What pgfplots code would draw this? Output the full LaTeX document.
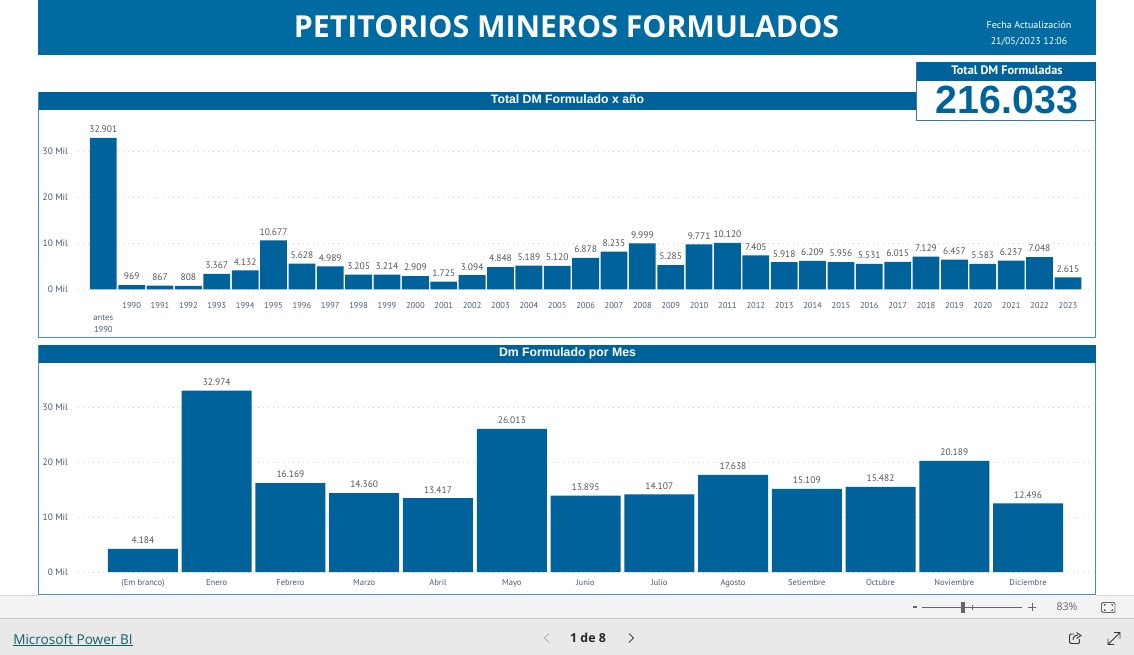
\documentclass[border=0pt]{standalone}
\usepackage{pgfplots}
\pgfplotsset{compat=1.18}
\usepackage{fontspec}
\setmainfont{PT Sans}
\newfontfamily\titlefont{Open Sans}
\newfontfamily\arialfont{Liberation Sans}
\definecolor{band}{HTML}{006BA0}
\definecolor{bar}{HTML}{00629A}
\definecolor{frame}{HTML}{3F8FC0}
\definecolor{ticktxt}{HTML}{4A5A78}
\definecolor{valtxt}{HTML}{555555}
\definecolor{gridc}{HTML}{D4D4D4}
\definecolor{statusbg}{HTML}{F3F3F3}
\definecolor{footbg}{HTML}{E9E9E9}
\definecolor{footline}{HTML}{C8C8C8}
\definecolor{statusline}{HTML}{D8D8D8}
\definecolor{linkc}{HTML}{0F5F66}
\definecolor{lightchev}{HTML}{B5B5B5}
\definecolor{darkchev}{HTML}{444444}
\definecolor{ctrl}{HTML}{666666}
\definecolor{iconc}{HTML}{333333}
\pgfplotstableread{
i v
0 32901
1 969
2 867
3 808
4 3367
5 4132
6 10677
7 5628
8 4989
9 3205
10 3214
11 2909
12 1725
13 3094
14 4848
15 5189
16 5120
17 6878
18 8235
19 9999
20 5285
21 9771
22 10120
23 7405
24 5918
25 6209
26 5956
27 5531
28 6015
29 7129
30 6457
31 5583
32 6237
33 7048
34 2615
}\yeartable
\pgfplotstableread{
i v
0 4184
1 32974
2 16169
3 14360
4 13417
5 26013
6 13895
7 14107
8 17638
9 15109
10 15482
11 20189
12 12496
}\monthtable
\pgfplotsset{panel/.style={
  scale only axis,
  anchor=south west,
  ymin=0,
  ytick={0,10000,20000,30000},
  yticklabels={0 Mil,10 Mil,20 Mil,30 Mil},
  scaled y ticks=false,
  ymajorgrids,
  grid style={gridc,line width=0.6pt,dash pattern=on 0.75pt off 3pt},
  axis line style={draw=none},
  major tick length=0pt,
  xtick=data,
  ybar,
  y tick label style={font=\fontsize{7}{8}\selectfont,text=ticktxt,xshift=-4pt},
  x tick label style={text=ticktxt,align=center},
  nodes near coords,
  nodes near coords style={font=\fontsize{7.1}{8}\selectfont,text=valtxt,inner ysep=3.6pt,
    /pgf/number format/.cd,fixed,precision=0,1000 sep={.},assume math mode=true},
  /pgf/number format/assume math mode=true,
  clip=false,
}}
\begin{document}
\begin{tikzpicture}[x=0.75pt,y=-0.75pt]
\path[use as bounding box] (0,0) rectangle (1134,655);
\fill[white] (0,0) rectangle (1134,655);
% header band
\fill[band] (38,0) rectangle (1096,55);
\node[text=white,font=\titlefont\bfseries\fontsize{22.7}{26}\selectfont] at (566.5,26.5) {PETITORIOS MINEROS FORMULADOS};
\node[text=white,font=\fontsize{7.5}{9}\selectfont] at (1029,24.5) {Fecha Actualización};
\node[text=white,font=\fontsize{7.4}{9}\selectfont] at (1029,41.5) {21/05/2023 12:06};
% panel 1
\fill[white] (38.5,92.5) rectangle (1095.5,338);
\draw[frame,line width=0.75pt] (38.5,92.5) rectangle (1095.5,338);
\fill[bar] (38.5,92.5) rectangle (1095.5,110.5);
\node[text=white,font=\arialfont\bfseries\fontsize{9.2}{11}\selectfont] at (567.5,99.5) {Total DM Formulado x año};
% panel 2
\fill[white] (38.5,345.5) rectangle (1095.5,594.5);
\draw[frame,line width=0.75pt] (38.5,345.5) rectangle (1095.5,594.5);
\fill[bar] (38.5,345.5) rectangle (1095.5,363.5);
\node[text=white,font=\arialfont\bfseries\fontsize{9.2}{11}\selectfont] at (567.5,353) {Dm Formulado por Mes};
% status and footer bars
\fill[statusbg] (0,596) rectangle (1134,618);
\fill[footbg] (0,618) rectangle (1134,655);
\draw[footline,line width=0.75pt] (0,618) -- (1134,618);
\draw[statusline,line width=0.5pt] (0,595.5) -- (38,595.5);
\draw[statusline,line width=0.5pt] (1096,595.5) -- (1134,595.5);
% chart 1
\begin{axis}[panel,at={(58.5pt,-217.125pt)},width=761.25pt,height=130.9pt,
  xmin=-0.892,xmax=34.885,ymax=37854,
  bar width=20.1pt,
  x tick label style={font=\fontsize{6.4}{8.7}\selectfont,yshift=-6.5pt},
  xticklabels={{\vphantom{1}\\antes\\1990},1990,1991,1992,1993,1994,1995,1996,1997,1998,1999,2000,2001,2002,2003,2004,2005,2006,2007,2008,2009,2010,2011,2012,2013,2014,2015,2016,2017,2018,2019,2020,2021,2022,2023}]
\addplot[fill=bar,draw=none] table[x=i,y=v] {\yeartable};
\end{axis}
% chart 2
\begin{axis}[panel,at={(58.5pt,-429pt)},width=761.25pt,height=153pt,
  xmin=-0.881,xmax=12.881,ymax=37090,
  bar width=52.5pt,
  x tick label style={font=\fontsize{6.4}{8.6}\selectfont,yshift=-2pt},
  xticklabels={(Em branco),Enero,Febrero,Marzo,Abril,Mayo,Junio,Julio,Agosto,Setiembre,Octubre,Noviembre,Diciembre}]
\addplot[fill=bar,draw=none] table[x=i,y=v] {\monthtable};
\end{axis}
% KPI card
\fill[white] (916.5,62.5) rectangle (1095.5,120.5);
\draw[frame!85!black,line width=0.75pt] (916.5,62.5) rectangle (1095.5,120.5);
\fill[bar] (916.5,62.5) rectangle (1095.5,81);
\node[text=white,font=\fontsize{9.2}{10}\selectfont\bfseries] at (1007,70) {Total DM Formuladas};
\node[text=bar,font=\arialfont\bfseries\fontsize{29.5}{32}\selectfont] at (1007,100) {216.033};
% footer content
\node[anchor=west,inner sep=0pt,text=linkc,font=\titlefont\fontsize{10.2}{12}\selectfont] (pbi) at (13,639) {Microsoft Power BI};
\draw[linkc,line width=0.6pt] (13,645.5) -- (133,645.5);
\node[text=black!85,font=\titlefont\bfseries\fontsize{9.3}{11}\selectfont] at (588,638) {1 de 8};
\draw[lightchev,line width=0.7pt] (549,633.5) -- (544.5,638) -- (549,642.5);
\draw[darkchev,line width=0.7pt] (629,633.5) -- (633.5,638) -- (629,642.5);
% zoom control
\draw[ctrl,line width=1pt] (913,607) -- (917,607);
\draw[ctrl,line width=0.7pt] (922,607) -- (1022,607);
\fill[ctrl] (961,602) rectangle (965,613);
\draw[ctrl,line width=0.5pt] (972,604.5) -- (972,609.5);
\draw[ctrl,line width=0.7pt] (1028,607) -- (1036,607) (1032,603) -- (1032,611);
\node[text=ctrl,font=\titlefont\fontsize{8}{10}\selectfont] at (1067,606.5) {83\%};
\draw[ctrl,line width=0.7pt,rounded corners=1pt] (1101.5,602.5) rectangle (1115,612.5);
\draw[ctrl,line width=0.6pt] (1104,606) -- (1104,604.8) -- (1106,604.8) (1112.5,606) -- (1112.5,604.8) -- (1110.5,604.8) (1104,609) -- (1104,610.2) -- (1106,610.2) (1112.5,609) -- (1112.5,610.2) -- (1110.5,610.2);
% share icon
\draw[iconc,line width=0.7pt,rounded corners=1pt] (1074,634) -- (1069.5,634) -- (1069.5,643.5) -- (1079.5,643.5) -- (1079.5,639);
\draw[iconc,line width=0.7pt] (1073,640) .. controls (1073,636) and (1076,635) .. (1078,635) (1076.5,632.5) -- (1081,635.5) -- (1076.5,638.5);
% expand icon
\draw[iconc,line width=0.7pt] (1108,644.5) -- (1120,632.5) (1114,632.5) -- (1120,632.5) -- (1120,638.5) (1108,638.5) -- (1108,644.5) -- (1114,644.5);
\end{tikzpicture}
\end{document}
